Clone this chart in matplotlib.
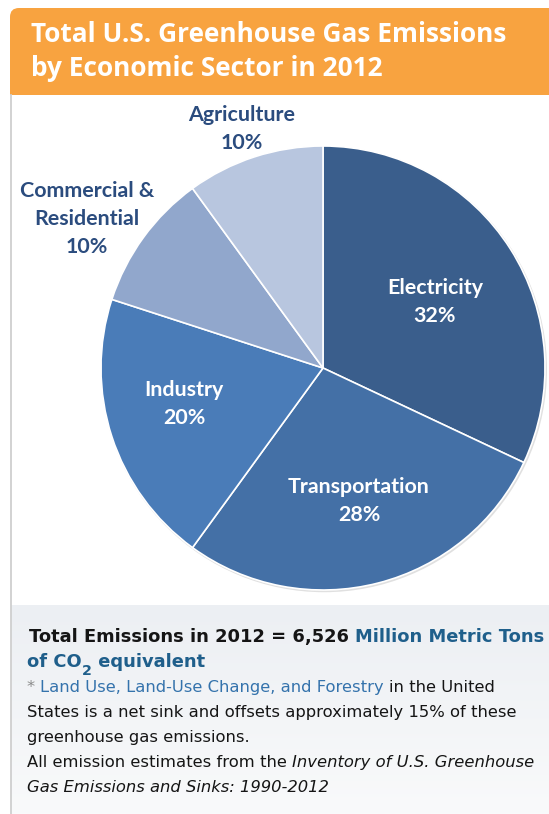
import matplotlib
matplotlib.use('Agg')
import matplotlib.pyplot as plt
import numpy as np
from matplotlib.patches import FancyBboxPatch, Rectangle, Circle
from matplotlib.colors import LinearSegmentedColormap

# ---------------- data ----------------
sectors = ['Electricity', 'Transportation', 'Industry', 'Commercial &\nResidential', 'Agriculture']
shares = [32, 28, 20, 10, 10]
title_lines = ['Total U.S. Greenhouse Gas Emissions', 'by Economic Sector in 2012']
year = '2012'
total_emissions = '6,526'
offset_pct = 15
sink_name = 'Land Use, Land-Use Change, and Forestry'
source_title = ['Inventory of U.S. Greenhouse', 'Gas Emissions and Sinks: 1990-2012']

# ---------------- style / layout ----------------
colors = ['#3A5E8C', '#4470A6', '#4A7CB8', '#91A7CC', '#B8C6DF']
label_colors = ['white', 'white', 'white', '#2B4C7E', '#2B4C7E']
# (center x, first baseline y) in pixels
label_anchor = [(435, 294), (359, 493), (184, 396), (87, 197), (242, 121)]
label_gap = 28

W, H = 549, 814
fig = plt.figure(figsize=(W / 100, H / 100), dpi=100)
bg = fig.add_axes([0, 0, 1, 1])
bg.set_xlim(0, W)
bg.set_ylim(H, 0)
bg.axis('off')
r = fig.canvas.get_renderer()


def width_of(ax, text, **kw):
    t = ax.text(0, 0, text, **kw)
    w = t.get_window_extent(r).width
    t.remove()
    return w


def fit(text, target, **kw):
    return 10 * target / width_of(bg, text, fontsize=10, **kw)


# bottom panel gradient
grad = np.linspace(0, 1, 200).reshape(-1, 1)
cmap = LinearSegmentedColormap.from_list('g', ['#ECEFF3', '#F9FAFB'])
bg.imshow(grad, extent=(11, W, H, 605), cmap=cmap, aspect='auto', zorder=0)
bg.set_xlim(0, W)
bg.set_ylim(H, 0)

# header
orange = '#F8A340'
bg.add_patch(FancyBboxPatch((10, 8), 560, 87, boxstyle='round,pad=0,rounding_size=9',
                            fc=orange, ec='none', zorder=1))
bg.add_patch(Rectangle((10, 50), 560, 45, fc=orange, ec='none', zorder=1))
bg.plot([10.5, 10.5], [95, H], color='#CFCFCF', lw=1.3, zorder=2)

title_font = dict(family='Open Sans', fontweight='bold')
ts = fit(title_lines[0], 475, **title_font)
for i, line in enumerate(title_lines):
    bg.text(31, 42 + 34 * i, line, color='white', fontsize=ts, va='baseline', ha='left',
            zorder=3, **title_font)

# ---------------- pie ----------------
cx, cy, R = 323, 368, 222
pax = fig.add_axes([(cx - R) / W, 1 - (cy + R) / H, 2 * R / W, 2 * R / H])
pax.add_patch(Circle((0.005, -0.006), 1.004, fc='#E0E0E0', ec='none', zorder=0, clip_on=False))
wedges, _ = pax.pie(shares, colors=colors, startangle=90, counterclock=False,
                    wedgeprops=dict(edgecolor='white', linewidth=1.2))
for w in wedges:
    w.set_clip_on(False)
pax.set_xlim(-1, 1)
pax.set_ylim(-1, 1)
pax.axis('off')

# overlay for text on top of pie
top = fig.add_axes([0, 0, 1, 1])
top.set_xlim(0, W)
top.set_ylim(H, 0)
top.axis('off')

label_font = dict(family='Lato', fontweight='bold')
ls = fit('Transportation', 142, **label_font)
for name, val, (lx, ly), c in zip(sectors, shares, label_anchor, label_colors):
    lines = name.split('\n') + [f'{val}%']
    for j, ln in enumerate(lines):
        top.text(lx, ly + j * label_gap, ln, color=c, fontsize=ls, ha='center', va='baseline',
                 zorder=5, **label_font)

# ---------------- bottom text ----------------
black = '#151515'
blue_b = '#1F5F8B'
blue_l = '#3473AC'
bfont = dict(family='DejaVu Sans', fontweight='bold')
nfont = dict(family='DejaVu Sans')
line1 = f'Total Emissions in {year} = {total_emissions} Million Metric Tons'
bs = fit(line1, 514, **bfont)
ns = fit(f'States is a net sink and offsets approximately {offset_pct}% of these', 489, **nfont)


def space_w(props):
    return width_of(top, 'x x', **props) - width_of(top, 'xx', **props)


def draw_line(x, y, segs):
    for text, props, color, sp, dy in segs:
        t = top.text(x, y + dy, text, color=color, ha='left', va='baseline', zorder=5, **props)
        x += t.get_window_extent(r).width
        if sp:
            x += space_w(props)


B = dict(fontsize=bs, **bfont)
N = dict(fontsize=ns, **nfont)
I = dict(fontsize=ns, style='italic', **nfont)
SUB = dict(fontsize=bs * 0.8, **bfont)

draw_line(29, 642, [(f'Total Emissions in {year} = {total_emissions}', B, black, True, 0),
                    ('Million Metric Tons', B, blue_b, False, 0)])
draw_line(27, 667, [('of CO', B, blue_b, False, 0), ('2', SUB, blue_b, False, 8),
                    (' equivalent', B, blue_b, False, 0)])
draw_line(27, 692, [('*', N, '#8A8A8A', True, 0), (sink_name, N, blue_l, True, 0),
                    ('in the United', N, black, False, 0)])
draw_line(27, 717, [(f'States is a net sink and offsets approximately {offset_pct}% of these', N, black, False, 0)])
draw_line(27, 742, [('greenhouse gas emissions.', N, black, False, 0)])
draw_line(27, 767, [('All emission estimates from the', N, black, True, 0),
                    (source_title[0], I, black, False, 0)])
draw_line(27, 792, [(source_title[1], I, black, False, 0)])

fig.savefig('out.png', dpi=100)
